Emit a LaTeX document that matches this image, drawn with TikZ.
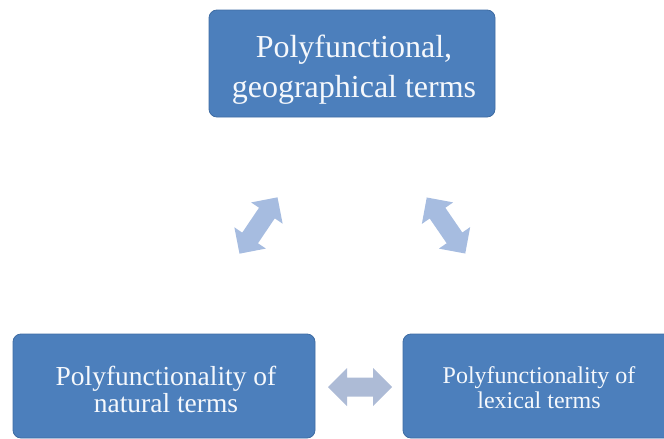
\documentclass[tikz,border=0pt]{standalone}
\usepackage{fontspec}
\setmainfont{Liberation Serif}
\definecolor{boxblue}{RGB}{76,127,188}
\definecolor{boxedge}{RGB}{62,108,163}
\definecolor{arrblue}{RGB}{166,188,224}
\definecolor{arrgrey}{RGB}{173,187,214}
\definecolor{txt}{RGB}{245,248,252}
\tikzset{
  termbox/.style={draw=boxedge, line width=0.8pt, fill=boxblue, rounded corners=8pt, inner sep=0pt},
  termtext/.style={text=txt, align=center, inner sep=0pt}
}
\newcommand{\dblarrow}[5]{%
  \begin{scope}[shift={(#1,#2)},rotate=#3]
    \fill[#5] (-#4/2,0) -- (-#4/2+19,19) -- (-#4/2+19,9.5) -- (#4/2-19,9.5) -- (#4/2-19,19)
      -- (#4/2,0) -- (#4/2-19,-19) -- (#4/2-19,-9.5) -- (-#4/2+19,-9.5) -- (-#4/2+19,-19) -- cycle;
  \end{scope}}
\begin{document}
\begin{tikzpicture}[x=1pt,y=1pt]
\useasboundingbox (0,0) rectangle (664,-439);
\clip (0,0) rectangle (664,-439);
\node[termbox, minimum width=286pt, minimum height=107pt] (geo) at (352,-63.5) {};
\node[termbox, minimum width=302pt, minimum height=104pt] (nat) at (164,-386) {};
\node[termbox, minimum width=272pt, minimum height=104pt] (lex) at (539,-386) {};
\node[termtext, font=\fontsize{32}{40}\selectfont] (geot) at (354,-69.5) {Polyfunctional,\\geographical terms};
\node[termtext, font=\fontsize{27.5}{27}\selectfont] (natt) at (166,-389.5) {Polyfunctionality of\\natural terms};
\node[termtext, font=\fontsize{24}{25}\selectfont] (lext) at (539,-388) {Polyfunctionality of\\lexical terms};
\dblarrow{258.5}{-225.5}{56}{68}{arrblue}
\dblarrow{446}{-225.5}{-55.5}{68}{arrblue}
\dblarrow{360}{-387}{0}{64}{arrgrey}
\end{tikzpicture}
\end{document}
